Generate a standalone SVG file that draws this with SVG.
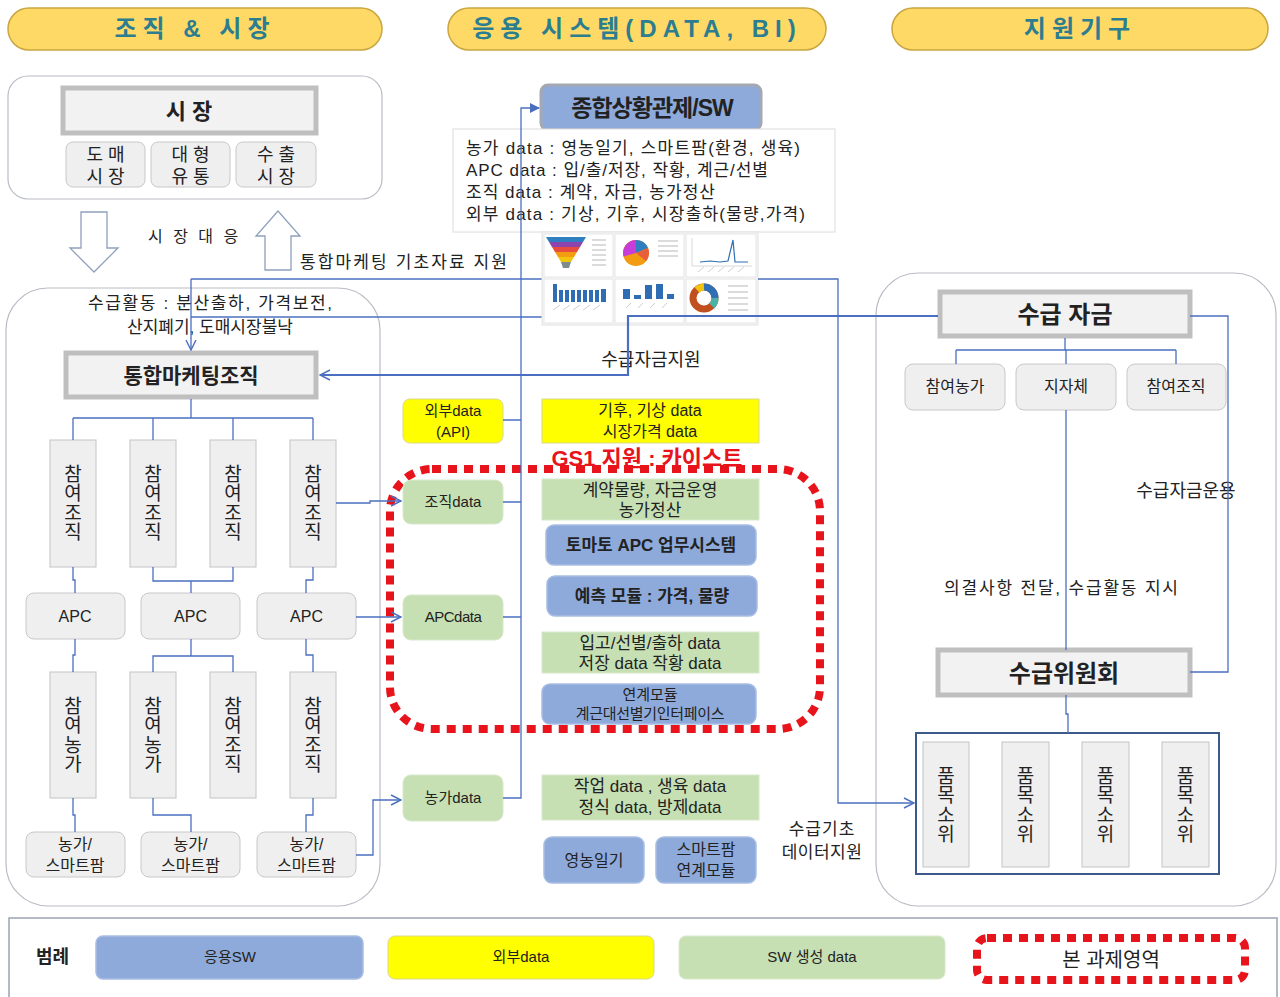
<svg xmlns="http://www.w3.org/2000/svg" width="1280" height="997" viewBox="0 0 1280 997">
<defs>
<style>
text{font-family:"Liberation Sans","Noto Sans CJK KR",sans-serif;fill:#222}
.hdr{fill:#ffd966;stroke:#c9a640;stroke-width:1.5}
.hdrt{font-size:24px;font-weight:bold;fill:#2b7d8f;letter-spacing:6px;text-anchor:middle}
.panel{fill:#fff;stroke:#b8bcc4;stroke-width:1.2}
.main{fill:#f2f2f2;stroke:#bfbfbf;stroke-width:5}
.gbox{fill:#efefef;stroke:#c8c8c8;stroke-width:1}
.tall{fill:#efefef;stroke:#c4c4c4;stroke-width:1}
.blue{fill:#8eaadb;stroke:#a9bde3;stroke-width:1.5}
.green{fill:#c6e0b4;stroke:#d7e8cb;stroke-width:1}
.yellow{fill:#ffff00;stroke:#d9d98a;stroke-width:1}
.c{text-anchor:middle}
.t15{font-size:15px}
.t16{font-size:16px}
.t17{font-size:17px}
.t18{font-size:18px}
.vt{font-size:19px;text-anchor:middle;writing-mode:vertical-rl;letter-spacing:0.5px}
.b{font-weight:bold}
.conn{fill:none;stroke:#4a6fc0;stroke-width:1.3}
.red{fill:none;stroke:#e8141b;stroke-width:8;stroke-dasharray:9 7}
</style>
<marker id="open" viewBox="0 0 12 12" refX="11" refY="6" markerWidth="12" markerHeight="12" markerUnits="userSpaceOnUse" orient="auto">
<path d="M1,1 L11,6 L1,11" fill="none" stroke="#4a6fc0" stroke-width="1.4"/>
</marker>
<marker id="solid" viewBox="0 0 10 10" refX="9" refY="5" markerWidth="10" markerHeight="10" markerUnits="userSpaceOnUse" orient="auto">
<path d="M0,0 L10,5 L0,10 Z" fill="#4a6fc0"/>
</marker>
</defs>
<rect width="1280" height="997" fill="#fff"/>

<!-- column headers -->
<g id="header-org">
<rect class="hdr" x="8" y="8" width="374" height="42" rx="21"/>
<text class="hdrt" x="195" y="37">조직 &amp; 시장</text>
</g>
<g id="header-sys">
<rect class="hdr" x="448" y="8" width="378" height="42" rx="21"/>
<text class="hdrt" x="637" y="37">응용 시스템(DATA, BI)</text>
</g>
<g id="header-support">
<rect class="hdr" x="892" y="8" width="376" height="42" rx="21"/>
<text class="hdrt" x="1080" y="37">지원기구</text>
</g>

<!-- panels -->
<rect class="panel" x="8" y="76" width="374" height="123" rx="20"/>
<rect class="panel" x="6" y="288" width="374" height="618" rx="42"/>
<rect class="panel" x="876" y="273" width="400" height="633" rx="42"/>

<!-- market -->
<g id="market">
<rect class="main" x="63" y="88" width="253" height="45"/>
<text class="c b" x="189" y="119" font-size="22">시 장</text>
</g>
<g id="wholesale">
<rect class="gbox" x="66" y="142" width="79" height="45" rx="7"/>
<text class="c t18"><tspan x="105.5" y="161">도 매</tspan><tspan x="105.5" y="183">시 장</tspan></text>
</g>
<g id="retail">
<rect class="gbox" x="151" y="142" width="79" height="45" rx="7"/>
<text class="c t18"><tspan x="190.5" y="161">대 형</tspan><tspan x="190.5" y="183">유 통</tspan></text>
</g>
<g id="export">
<rect class="gbox" x="236" y="142" width="80" height="45" rx="7"/>
<text class="c t18"><tspan x="276" y="161">수 출</tspan><tspan x="276" y="183">시 장</tspan></text>
</g>

<!-- hollow block arrows -->
<g id="market-response">
<path d="M81,212 H107 V248 H118 L94,272 L70,248 H81 Z" fill="#fff" stroke="#8ea0bc" stroke-width="1.3"/>
<path d="M265,270 H291 V236 H300 L278,211 L256,236 H265 Z" fill="#fff" stroke="#8ea0bc" stroke-width="1.3"/>
<text x="148" y="242" class="t16" letter-spacing="3">시 장 대 응</text>
</g>
<text x="300" y="268" class="t17" textLength="207" lengthAdjust="spacing">통합마케팅 기초자료 지원</text>

<!-- left organisation tree -->
<text class="c t17"><tspan x="210" y="309" textLength="244" lengthAdjust="spacing">수급활동 : 분산출하, 가격보전,</tspan><tspan x="210" y="333">산지폐기, 도매시장불낙</tspan></text>
<g id="marketing-org">
<rect class="main" x="66" y="353" width="250" height="44"/>
<text class="c b" x="191" y="383" font-size="21">통합마케팅조직</text>
</g>

<g id="org1"><rect class="tall" x="50" y="440" width="46" height="127"/><text class="vt" x="71" y="503">참여조직</text></g>
<g id="org2"><rect class="tall" x="130" y="440" width="46" height="127"/><text class="vt" x="151" y="503">참여조직</text></g>
<g id="org3"><rect class="tall" x="210" y="440" width="46" height="127"/><text class="vt" x="231" y="503">참여조직</text></g>
<g id="org4"><rect class="tall" x="290" y="440" width="46" height="127"/><text class="vt" x="311" y="503">참여조직</text></g>

<g id="apc1"><rect class="gbox" x="26" y="593" width="99" height="46" rx="8"/><text class="c t16" x="75" y="622">APC</text></g>
<g id="apc2"><rect class="gbox" x="141" y="593" width="99" height="46" rx="8"/><text class="c t16" x="190.5" y="622">APC</text></g>
<g id="apc3"><rect class="gbox" x="257" y="593" width="99" height="46" rx="8"/><text class="c t16" x="306.5" y="622">APC</text></g>

<g id="farm1"><rect class="tall" x="50" y="672" width="46" height="126"/><text class="vt" x="71" y="735">참여농가</text></g>
<g id="farm2"><rect class="tall" x="130" y="672" width="46" height="126"/><text class="vt" x="151" y="735">참여농가</text></g>
<g id="org5"><rect class="tall" x="210" y="672" width="46" height="126"/><text class="vt" x="231" y="735">참여조직</text></g>
<g id="org6"><rect class="tall" x="290" y="672" width="46" height="126"/><text class="vt" x="311" y="735">참여조직</text></g>

<g id="smartfarm1"><rect class="gbox" x="26" y="832" width="99" height="45" rx="8"/>
<text class="c t16"><tspan x="75" y="850">농가/</tspan><tspan x="75" y="871">스마트팜</tspan></text></g>
<g id="smartfarm2"><rect class="gbox" x="141" y="832" width="99" height="45" rx="8"/>
<text class="c t16"><tspan x="190.5" y="850">농가/</tspan><tspan x="190.5" y="871">스마트팜</tspan></text></g>
<g id="smartfarm3"><rect class="gbox" x="257" y="832" width="99" height="45" rx="8"/>
<text class="c t16"><tspan x="306.5" y="850">농가/</tspan><tspan x="306.5" y="871">스마트팜</tspan></text></g>

<!-- central system -->
<g id="control-center">
<rect x="541" y="85" width="220" height="45" rx="7" fill="#8eaadb" stroke="#a3a8b2" stroke-width="3"/>
<text class="c b" x="652" y="116" font-size="23" letter-spacing="-1">종합상황관제/SW</text>
</g>
<g id="data-summary">
<rect x="453" y="129" width="382" height="103" fill="#fff" stroke="#dcdcdc" stroke-width="1"/>
<text class="t17">
<tspan x="466" y="154" textLength="334" lengthAdjust="spacing">농가 data : 영농일기, 스마트팜(환경, 생육)</tspan>
<tspan x="466" y="176" textLength="302" lengthAdjust="spacing">APC data : 입/출/저장, 작황, 계근/선별</tspan>
<tspan x="466" y="198" textLength="249" lengthAdjust="spacing">조직 data : 계약, 자금, 농가정산</tspan>
<tspan x="466" y="220" textLength="339" lengthAdjust="spacing">외부 data : 기상, 기후, 시장출하(물량,가격)</tspan>
</text>
</g>

<!-- connectors passing under the dashboard -->
<g id="connectors-under" class="conn">
<path d="M191,279 H542"/>
<path d="M191,317 H542"/>
</g>

<!-- BI dashboard thumbnails -->
<g id="dashboard">
<rect x="542" y="232" width="216" height="93" fill="#f7f7f7" stroke="#e2e2e2"/>
<g fill="#fff" stroke="#e6e6e6" stroke-width="1">
<rect x="544" y="234" width="69" height="43"/><rect x="615" y="234" width="69" height="43"/><rect x="686" y="234" width="70" height="43"/>
<rect x="544" y="279" width="69" height="44"/><rect x="615" y="279" width="69" height="44"/><rect x="686" y="279" width="70" height="44"/>
</g>
<!-- funnel -->
<path d="M546,237 H586 L583,242 H549 Z" fill="#2f7fc0"/>
<path d="M549,242 H583 L580,247 H552 Z" fill="#8e44ad"/>
<path d="M552,247 H580 L577,252 H555 Z" fill="#e74c3c"/>
<path d="M555,252 H577 L574,257 H558 Z" fill="#f39c12"/>
<path d="M558,257 H574 L571,262 H561 Z" fill="#f1c40f"/>
<path d="M561,262 H571 L569,268 H563 Z" fill="#7f8c8d"/>
<g stroke="#cfcfcf" stroke-width="1.5"><path d="M592,240 H606 M592,245 H606 M592,250 H606 M592,255 H606 M592,260 H606 M592,265 H606"/></g>
<!-- pie -->
<circle cx="636" cy="253" r="13" fill="#f39c12"/>
<path d="M636,253 L636,240 A13,13 0 0,0 623.5,256.5 Z" fill="#c83cd8"/>
<path d="M636,253 L636,240 A13,13 0 0,1 648,248 Z" fill="#2f7fc0"/>
<path d="M636,253 L648,248 A13,13 0 0,1 646,261 Z" fill="#e85d3c"/>
<g stroke="#cfcfcf" stroke-width="1.5"><path d="M658,241 H678 M658,246 H678 M658,251 H678 M658,256 H678"/></g>
<!-- line chart -->
<path d="M692,238 V266 H752" fill="none" stroke="#d8d8d8"/>
<path d="M700,262 L710,261 L720,262 L728,261 L733,240 L735,262 L748,262" fill="none" stroke="#2f6fb5" stroke-width="1.2"/>
<g stroke="#d0d0d0"><path d="M698,272 L704,267 M708,272 L714,267 M718,272 L724,267 M728,272 L734,267 M738,272 L744,267"/></g>
<!-- bar chart 1 -->
<g fill="#2e6db4">
<rect x="553" y="284" width="4" height="18"/><rect x="559" y="290" width="4" height="12"/><rect x="565" y="290" width="4" height="12"/><rect x="571" y="290" width="4" height="12"/><rect x="577" y="290" width="4" height="12"/><rect x="583" y="290" width="4" height="12"/><rect x="589" y="290" width="4" height="12"/><rect x="595" y="290" width="4" height="12"/><rect x="601" y="289" width="5" height="13"/>
</g>
<g stroke="#d0d0d0"><path d="M553,310 L560,305 M563,310 L570,305 M573,310 L580,305 M583,310 L590,305 M593,310 L600,305"/></g>
<!-- bar chart 2 -->
<g fill="#2e6db4">
<rect x="623" y="289" width="7" height="10"/><rect x="634" y="295" width="7" height="4"/><rect x="645" y="285" width="7" height="14"/><rect x="656" y="284" width="7" height="15"/><rect x="667" y="294" width="7" height="5"/>
</g>
<g stroke="#d0d0d0"><path d="M626,308 L631,303 M638,308 L643,303 M650,308 L655,303 M662,308 L667,303"/></g>
<!-- donut -->
<circle cx="704" cy="298" r="11" fill="none" stroke="#c0501f" stroke-width="7"/>
<path d="M704,287 A11,11 0 0,1 715,298" fill="none" stroke="#2f6fb5" stroke-width="7"/>
<path d="M715,298 A11,11 0 0,1 712,306" fill="none" stroke="#4bb3a5" stroke-width="7"/>
<path d="M697,290 A11,11 0 0,1 704,287" fill="none" stroke="#f1c40f" stroke-width="7"/>
<g stroke="#cfcfcf" stroke-width="1.5"><path d="M728,286 H748 M728,292 H748 M728,298 H748 M728,304 H748 M728,310 H748"/></g>
</g>

<text class="c t18" x="651" y="366">수급자금지원</text>

<!-- external data -->
<g id="external-api">
<rect class="yellow" x="403" y="399" width="100" height="44" rx="7"/>
<text class="c t15"><tspan x="453" y="416">외부data</tspan><tspan x="453" y="437">(API)</tspan></text>
</g>
<g id="weather-data">
<rect class="yellow" x="542" y="399" width="217" height="44"/>
<text class="c t16"><tspan x="650" y="416">기후, 기상 data</tspan><tspan x="650" y="437">시장가격 data</tspan></text>
</g>

<!-- project scope -->
<text class="c b" x="647" y="466" font-size="22" style="fill:#e8141b">GS1 지원 : 카이스트</text>
<rect class="red" x="390" y="469" width="430" height="260" rx="42"/>

<g id="org-data">
<rect class="green" x="403" y="480" width="100" height="44" rx="8"/>
<text class="c t15" x="453" y="507">조직data</text>
</g>
<g id="apc-data">
<rect class="green" x="403" y="595" width="100" height="45" rx="8"/>
<text class="c t15" x="453" y="622" letter-spacing="-0.5">APCdata</text>
</g>
<g id="contract-data">
<rect class="green" x="542" y="479" width="217" height="41"/>
<text class="c t17"><tspan x="650" y="496">계약물량, 자금운영</tspan><tspan x="650" y="516">농가정산</tspan></text>
</g>
<g id="apc-system">
<rect class="blue" x="546" y="525" width="210" height="40" rx="8"/>
<text class="c b t17" x="651" y="551">토마토 APC 업무시스템</text>
</g>
<g id="forecast">
<rect class="blue" x="547" y="576" width="210" height="40" rx="8"/>
<text class="c b t17" x="652" y="602">예측 모듈 : 가격, 물량</text>
</g>
<g id="apc-records">
<rect class="green" x="542" y="632" width="217" height="41"/>
<text class="c t17"><tspan x="650" y="649">입고/선별/출하 data</tspan><tspan x="650" y="669">저장 data 작황 data</tspan></text>
</g>
<g id="interface">
<rect class="blue" x="542" y="684" width="214" height="40" rx="8"/>
<text class="c t15"><tspan x="650" y="700">연계모듈</tspan><tspan x="650" y="719" letter-spacing="-0.3">계근대선별기인터페이스</tspan></text>
</g>

<g id="farm-data">
<rect class="green" x="403" y="775" width="100" height="46" rx="8"/>
<text class="c t15" x="453" y="803">농가data</text>
</g>
<g id="work-data">
<rect class="green" x="542" y="775" width="217" height="45"/>
<text class="c t17"><tspan x="650" y="792">작업 data , 생육 data</tspan><tspan x="650" y="813">정식 data, 방제data</tspan></text>
</g>
<g id="farm-diary">
<rect class="blue" x="544" y="837" width="100" height="46" rx="8"/>
<text class="c t16" x="594" y="866">영농일기</text>
</g>
<g id="smartfarm-module">
<rect class="blue" x="656" y="837" width="100" height="46" rx="8"/>
<text class="c t16"><tspan x="706" y="855">스마트팜</tspan><tspan x="706" y="876">연계모듈</tspan></text>
</g>
<text class="c t17"><tspan x="822" y="835" letter-spacing="1">수급기초</tspan><tspan x="822" y="858" letter-spacing="0.5">데이터지원</tspan></text>

<!-- support bodies -->
<g id="fund">
<rect class="main" x="940" y="292" width="250" height="44"/>
<text class="c b" x="1065" y="323" font-size="24">수급 자금</text>
</g>
<g id="fund-farms"><rect class="gbox" x="905" y="364" width="100" height="46" rx="8"/><text class="c t16" x="955" y="392">참여농가</text></g>
<g id="fund-local"><rect class="gbox" x="1016" y="364" width="100" height="46" rx="8"/><text class="c t16" x="1066" y="392">지자체</text></g>
<g id="fund-orgs"><rect class="gbox" x="1127" y="364" width="99" height="46" rx="8"/><text class="c t16" x="1176" y="392">참여조직</text></g>
<text class="c t18" x="1186" y="497">수급자금운용</text>
<text class="c t17" x="1061" y="594" textLength="234" lengthAdjust="spacing">의결사항 전달, 수급활동 지시</text>
<g id="committee">
<rect class="main" x="938" y="650" width="252" height="45"/>
<text class="c b" x="1064" y="682" font-size="24">수급위원회</text>
</g>
<g id="subcommittees">
<rect x="916" y="733" width="303" height="141" fill="none" stroke="#3b5a8a" stroke-width="2"/>
<rect class="tall" x="923" y="742" width="46" height="125"/>
<rect class="tall" x="1002" y="742" width="47" height="125"/>
<rect class="tall" x="1082" y="742" width="47" height="125"/>
<rect class="tall" x="1162" y="742" width="47" height="125"/>
<text class="vt" x="944" y="805" letter-spacing="3">품목소위</text>
<text class="vt" x="1023.5" y="805" letter-spacing="3">품목소위</text>
<text class="vt" x="1103.5" y="805" letter-spacing="3">품목소위</text>
<text class="vt" x="1183.5" y="805" letter-spacing="3">품목소위</text>
</g>

<!-- connectors -->
<g id="connectors" class="conn">
<!-- marketing organisation tree -->
<path d="M191,399 V418 M73,418 H313 M73,418 V440 M153,418 V440 M233,418 V440 M313,418 V440"/>
<path d="M73,567 V580 H75 V593"/>
<path d="M153,567 V581 H233 V567 M191,581 V593"/>
<path d="M313,567 V580 H306 V593"/>
<path d="M75,639 V655 H73 V672"/>
<path d="M191,639 V656 M153,672 V656 H233 V672"/>
<path d="M306,639 V655 H313 V672"/>
<path d="M73,798 V815 H75 V832"/>
<path d="M153,798 V815 H191 V832"/>
<path d="M313,798 V815 H306 V832"/>
<!-- field data into the system -->
<path d="M336,503 H370 V501 H401" marker-end="url(#open)"/>
<path d="M356,617 H401" marker-end="url(#open)"/>
<path d="M356,855 H373 V800 H401" marker-end="url(#open)"/>
<path d="M503,420 H521 M503,502 H521 M503,617 H521"/>
<path d="M503,798 H521 V108 H539" marker-end="url(#solid)"/>
<!-- basic marketing data and supply-demand support -->
<path d="M191,279 V350" marker-end="url(#open)"/>
<path d="M758,279 H838 V803 H914" marker-end="url(#open)"/>
<path d="M938,316 H628 V375 H320" stroke-width="2.2" marker-end="url(#open)"/>
<!-- support body tree -->
<path d="M1065,338 V350 M956,350 H1176 M956,350 V364 M1066,350 V364 M1176,350 V364"/>
<path d="M1066,410 V650"/>
<path d="M1190,316 H1228 V672 H1190"/>
<path d="M1066,695 V714 H1068 V733"/>
</g>

<!-- legend -->
<g id="legend">
<rect x="9" y="918" width="1268" height="90" fill="#fff" stroke="#9aa4b4" stroke-width="1.5"/>
<text class="b t18" x="36" y="963">범례</text>
<rect class="blue" x="96" y="936" width="267" height="43" rx="7"/>
<text class="c t15" x="230" y="962">응용SW</text>
<rect class="yellow" x="388" y="936" width="266" height="43" rx="7"/>
<text class="c t15" x="521" y="962">외부data</text>
<rect class="green" x="679" y="936" width="266" height="43" rx="7"/>
<text class="c t15" x="812" y="962">SW 생성  data</text>
<rect class="red" x="977" y="938" width="268" height="42" rx="10" stroke-width="7"/>
<text class="c" x="1111" y="967" font-size="20">본 과제영역</text>
</g>
</svg>
